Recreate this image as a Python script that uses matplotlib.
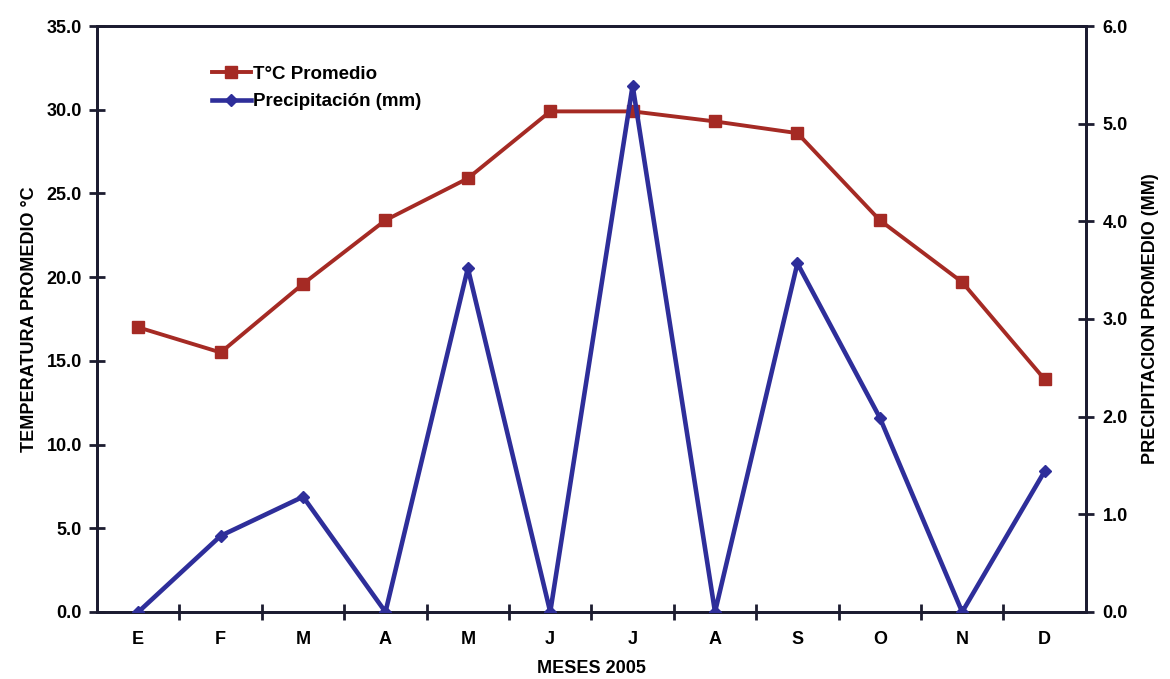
import matplotlib
matplotlib.use("Agg")
import matplotlib.pyplot as plt
import numpy as np

months = ["E", "F", "M", "A", "M", "J", "J", "A", "S", "O", "N", "D"]
temperatura = [17.0, 15.5, 19.6, 23.4, 25.9, 29.9, 29.9, 29.3, 28.6, 23.4, 19.7, 13.9]
precipitacion = [0.0, 0.78, 1.18, 0.0, 3.52, 0.0, 5.39, 0.0, 3.57, 1.99, 0.0, 1.44]
temp_ticks = [0, 5, 10, 15, 20, 25, 30, 35]
prec_ticks = [0, 1, 2, 3, 4, 5, 6]

plt.rcParams['font.family'] = ['Liberation Sans', 'DejaVu Sans']
plt.rcParams['font.weight'] = 'bold'

RED = "#a52a24"
BLUE = "#2e2e9a"
AX = "#1c1c30"

fig = plt.figure(figsize=(11.7, 6.79), dpi=100)
ax = fig.add_axes([0.083, 0.0987, 0.845, 0.863])
ax2 = ax.twinx()

x = np.arange(len(months))
l1, = ax.plot(x, temperatura, color=RED, lw=2.8, marker='s', ms=9,
              markeredgecolor=RED, label="T°C Promedio", zorder=3)
l2, = ax2.plot(x, precipitacion, color=BLUE, lw=3.3, marker='D', ms=6.5,
               markeredgecolor=BLUE, label="Precipitación (mm)", zorder=3)

ax.set_xlim(-0.5, len(months) - 0.5)
ax.set_ylim(0, 35)
ax2.set_ylim(0, 6)

ax.set_yticks(temp_ticks)
ax.set_yticklabels([f"{v:.1f}" for v in temp_ticks])
ax2.set_yticks(prec_ticks)
ax2.set_yticklabels([f"{v:.1f}" for v in prec_ticks])

ax.set_xticks(x)
ax.set_xticklabels(months)
ax.set_xticks(np.arange(0.5, len(months) - 1, 1.0), minor=True)
ax.tick_params(axis='x', which='major', length=0, pad=14, labelsize=13)
ax.tick_params(axis='x', which='minor', direction='inout', length=12, width=2, color=AX)
ax.tick_params(axis='y', direction='inout', length=12, width=2, color=AX, labelsize=13, pad=5)
ax2.tick_params(axis='y', direction='inout', length=12, width=2, color=AX, labelsize=13, pad=6)

for a in (ax, ax2):
    for s in a.spines.values():
        s.set_color(AX)
        s.set_linewidth(2)

ax.set_ylabel("TEMPERATURA PROMEDIO °C", fontsize=13, fontweight='bold', labelpad=6)
ax2.set_ylabel("PRECIPITACION PROMEDIO (MM)", fontsize=13, fontweight='bold', labelpad=10)
ax.set_xlabel("MESES 2005", fontsize=13, fontweight='bold', labelpad=8)

leg = ax.legend(handles=[l1, l2], loc='upper left', bbox_to_anchor=(0.116, 0.932),
                frameon=False, fontsize=13.5, handlelength=2.1, handletextpad=0.1,
                labelspacing=0.55, borderaxespad=0, borderpad=0)
for t in leg.get_texts():
    t.set_fontweight('bold')

fig.savefig("out.png", dpi=100, facecolor='white')
